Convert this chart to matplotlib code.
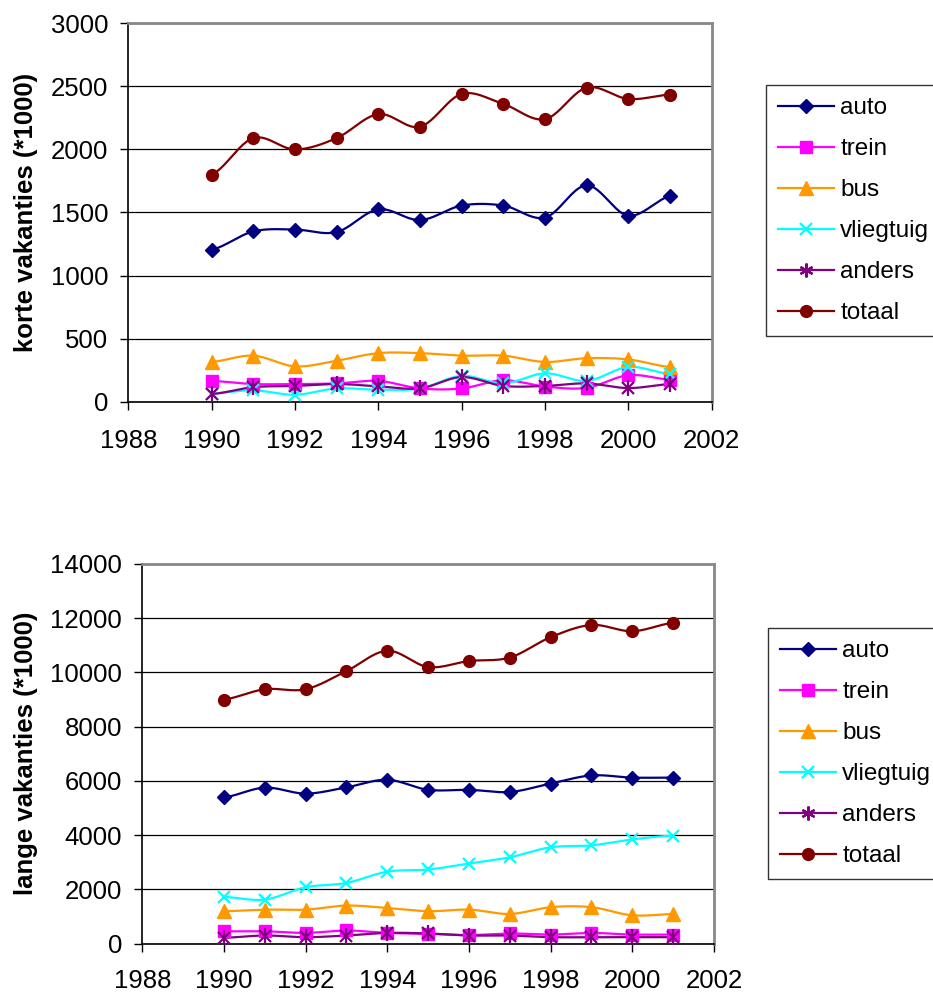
import numpy as np
import matplotlib
matplotlib.use("Agg")
import matplotlib.pyplot as plt
from matplotlib.lines import Line2D

plt.rcParams['font.family'] = ['Liberation Sans', 'DejaVu Sans']

years = [1990, 1991, 1992, 1993, 1994, 1995, 1996, 1997, 1998, 1999, 2000, 2001]
series_names = ["auto", "trein", "bus", "vliegtuig", "anders", "totaal"]

# korte vakanties (*1000)
kort_auto = [1205, 1350, 1365, 1345, 1525, 1440, 1555, 1555, 1460, 1715, 1475, 1630]
kort_trein = [165, 140, 140, 145, 165, 105, 105, 170, 120, 110, 210, 175]
kort_bus = [315, 365, 280, 325, 385, 385, 365, 365, 315, 345, 335, 275]
kort_vliegtuig = [65, 90, 55, 105, 95, 105, 205, 145, 225, 165, 275, 220]
kort_anders = [60, 115, 125, 140, 122, 106, 195, 125, 125, 145, 108, 140]
kort_totaal = [1800, 2090, 2000, 2090, 2280, 2180, 2440, 2360, 2240, 2490, 2400, 2435]

# lange vakanties (*1000)
lang_auto = [5390, 5750, 5530, 5760, 6040, 5670, 5670, 5590, 5900, 6200, 6120, 6120]
lang_trein = [450, 450, 390, 480, 390, 355, 310, 370, 330, 390, 330, 330]
lang_bus = [1190, 1250, 1250, 1400, 1310, 1190, 1250, 1090, 1340, 1340, 1040, 1090]
lang_vliegtuig = [1720, 1620, 2075, 2235, 2650, 2730, 2950, 3180, 3550, 3620, 3840, 3980]
lang_anders = [210, 295, 233, 295, 390, 370, 295, 295, 233, 233, 233, 233]
lang_totaal = [9000, 9380, 9380, 10050, 10800, 10200, 10420, 10550, 11300, 11750, 11520, 11830]

styles = {
    "auto": dict(color="#000080", marker="D", ms=7.5),
    "trein": dict(color="#FF00FF", marker="s", ms=8),
    "bus": dict(color="#FF9900", marker="^", ms=9.5),
    "vliegtuig": dict(color="#00FFFF", marker="x", ms=9, mew=1.6),
    "anders": dict(color="#800080", marker="*", ms=0),
    "totaal": dict(color="#800000", marker="o", ms=8.5),
}

FS = 18.5
LEG_FS = 17.5


def smooth(x, y, n=24):
    """Catmull-Rom curve through the points (same as a smoothed line chart)."""
    x = np.asarray(x, float)
    y = np.asarray(y, float)
    px = np.concatenate([[2 * x[0] - x[1]], x, [2 * x[-1] - x[-2]]])
    py = np.concatenate([[y[0]], y, [y[-1]]])
    xs, ys = [], []
    t = np.linspace(0, 1, n, endpoint=False)
    for i in range(1, len(px) - 2):
        p0, p1, p2, p3 = px[i - 1], px[i], px[i + 1], px[i + 2]
        q0, q1, q2, q3 = py[i - 1], py[i], py[i + 1], py[i + 2]
        # Bezier control points
        c1x, c2x = p1 + (p2 - p0) / 6, p2 - (p3 - p1) / 6
        c1y, c2y = q1 + (q2 - q0) / 6, q2 - (q3 - q1) / 6
        b0 = (1 - t) ** 3
        b1 = 3 * (1 - t) ** 2 * t
        b2 = 3 * (1 - t) * t ** 2
        b3 = t ** 3
        xs.append(b0 * p1 + b1 * c1x + b2 * c2x + b3 * p2)
        ys.append(b0 * q1 + b1 * c1y + b2 * c2y + b3 * q2)
    xs.append([x[-1]])
    ys.append([y[-1]])
    return np.concatenate(xs), np.concatenate(ys)


def asterisk(ax, x, y, color):
    ax.plot(x, y, linestyle="none", marker="x", ms=9, mew=1.6, color=color, zorder=4)
    ax.plot(x, y, linestyle="none", marker="|", ms=11, mew=1.6, color=color, zorder=4)


def draw_panel(ax, data, ymax, ystep, ylabel, legend_box, xpad):
    for name in series_names:
        vals = data[name]
        st = styles[name]
        sx, sy = smooth(years, vals)
        ax.plot(sx, sy, color=st["color"], lw=1.6, zorder=3, solid_capstyle="round")
        if name == "anders":
            asterisk(ax, years, vals, st["color"])
        else:
            ax.plot(years, vals, linestyle="none", marker=st["marker"], ms=st["ms"],
                    mew=st.get("mew", 1), color=st["color"], zorder=4)

    ax.set_xlim(1988, 2002)
    ax.set_ylim(0, ymax)
    ax.set_xticks(np.arange(1988, 2003, 2))
    ax.set_yticks(np.arange(0, ymax + 1, ystep))
    ax.yaxis.grid(True, color="#000000", lw=0.9)
    ax.set_axisbelow(True)
    ax.tick_params(axis="both", labelsize=FS, width=1, color="#000000")
    ax.tick_params(axis="x", length=5.5, pad=xpad)
    ax.tick_params(axis="y", length=6, pad=8.5)
    for side in ("top", "right"):
        ax.spines[side].set_color("#888888")
        ax.spines[side].set_linewidth(2)
    for side in ("left", "bottom"):
        ax.spines[side].set_color("#000000")
        ax.spines[side].set_linewidth(1.2)
    ax.set_ylabel(ylabel, fontsize=FS, fontweight="bold", labelpad=9)

    handles = []
    for name in series_names:
        st = styles[name]
        if name == "anders":
            h = Line2D([0], [0], color=st["color"], lw=1.6, marker=(6, 2, 0), ms=10, mew=1.6)
        else:
            h = Line2D([0], [0], color=st["color"], lw=1.6, marker=st["marker"],
                       ms=st["ms"], mew=st.get("mew", 1))
        handles.append(h)
    leg = ax.legend(handles, series_names, loc="upper left", bbox_to_anchor=legend_box,
                    bbox_transform=ax.figure.transFigure, fontsize=LEG_FS, frameon=True,
                    fancybox=False, borderpad=0.5, labelspacing=0.78, handlelength=2.3,
                    handletextpad=0.25, borderaxespad=0)
    leg.get_frame().set_edgecolor("#000000")
    leg.get_frame().set_linewidth(1)


W, H = 933, 994
fig = plt.figure(figsize=(W / 100, H / 100), dpi=100)

ax1 = fig.add_axes([128.3 / W, 1 - 401.7 / H, (711.7 - 128.3) / W, (401.7 - 23.3) / H])
ax2 = fig.add_axes([142.3 / W, 1 - 943.5 / H, (714 - 142.3) / W, (943.5 - 564) / H])

kort = dict(auto=kort_auto, trein=kort_trein, bus=kort_bus, vliegtuig=kort_vliegtuig,
            anders=kort_anders, totaal=kort_totaal)
lang = dict(auto=lang_auto, trein=lang_trein, bus=lang_bus, vliegtuig=lang_vliegtuig,
            anders=lang_anders, totaal=lang_totaal)

draw_panel(ax1, kort, 3000, 500, "korte vakanties (*1000)", (766 / W, 1 - 85 / H), 13.8)
draw_panel(ax2, lang, 14000, 2000, "lange vakanties (*1000)", (768 / W, 1 - 628 / H), 13.0)

fig.savefig("out.png", dpi=100)
